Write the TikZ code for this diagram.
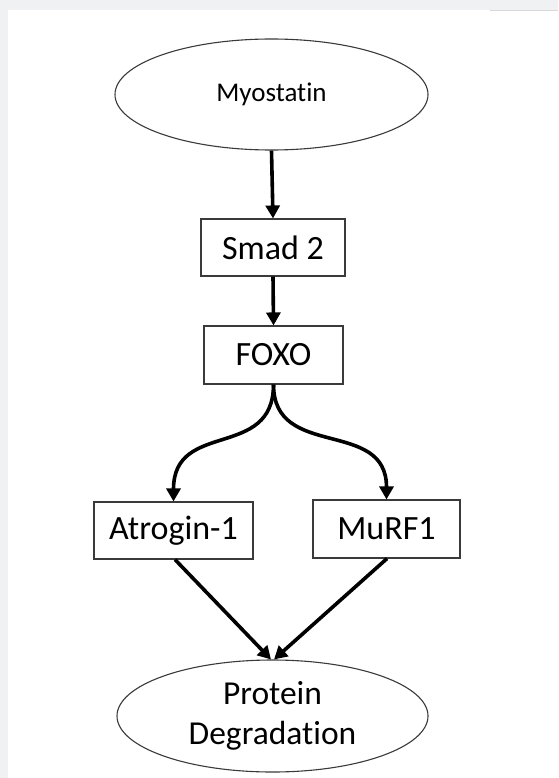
\documentclass[tikz,border=0pt]{standalone}
\usepackage{fontspec}
\setmainfont[Ligatures={NoCommon}]{Carlito}
\usetikzlibrary{shapes.geometric,arrows.meta}
\definecolor{bandgray}{HTML}{F0F1F3}
\definecolor{edgegray}{HTML}{3A3A3A}
\begin{document}
\begin{tikzpicture}[x=1pt,y=-1pt,
  boxnode/.style={draw=edgegray,line width=1.1pt,rectangle,inner sep=0pt,font=\fontsize{34}{40}\selectfont},
  ellnode/.style={draw=edgegray,line width=1.1pt,ellipse,inner sep=0pt,align=center},
  arr/.style={line width=3.6pt,-{Triangle[length=13pt,width=14pt]}}]
\useasboundingbox (0,0) rectangle (558,778);
\fill[bandgray] (0,0) rectangle (558,778);
\fill[white] (7.5,10) rectangle (558,778);
\draw[black!15,line width=0.8pt] (490,10.5) -- (558,10.5);

\node[ellnode,minimum width=313pt,minimum height=111pt,font=\fontsize{27}{32}\selectfont] (myo) at (271.5,94.5) {Myostatin};
\node[boxnode,minimum width=144pt,minimum height=57pt] (smad) at (273,247.5) {Smad 2};
\node[boxnode,minimum width=139pt,minimum height=58pt] (foxo) at (273.5,355) {FOXO};
\node[boxnode,minimum width=159pt,minimum height=57pt] (atro) at (173.5,530.5) {Atrogin-1};
\node[boxnode,minimum width=147pt,minimum height=58pt] (murf) at (386.5,529) {MuRF1};
\node[ellnode,minimum width=311pt,minimum height=112pt,font=\fontsize{33.5}{40}\selectfont] (prot) at (272.5,716) {Protein\\Degradation};

\coordinate (pl) at ([xshift=-1.5pt]prot.north);
\coordinate (pr) at ([xshift=1.5pt]prot.north);
\coordinate (as) at ([xshift=1.5pt]atro.south);
\coordinate (ms) at ([xshift=0.5pt]murf.south);

\draw[arr] (myo.south) -- (smad.north);
\draw[arr] (smad.south) -- (foxo.north);
\draw[arr] (foxo.south) .. controls +(0,76) and +(0,-82) .. (atro.north);
\draw[arr] (foxo.south) .. controls +(0,76) and +(0,-82) .. (murf.north);
\draw[arr] (as) -- (pl);
\draw[arr] (ms) -- (pr);
\end{tikzpicture}
\end{document}
